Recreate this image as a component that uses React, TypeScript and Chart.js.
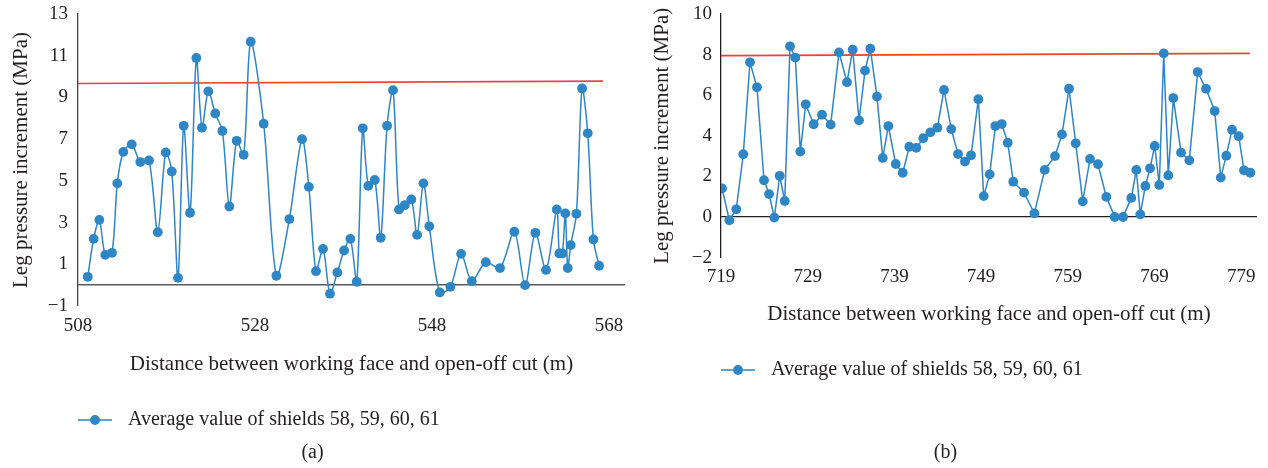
import React, { useEffect, useRef } from 'react';
import { Chart, registerables } from 'chart.js';

Chart.register(...registerables);

const FONT = "'Liberation Serif', 'Times New Roman', serif";
const BLUE = '#2E86C4';
const RED = '#E8442E';
const TEXT = '#231F20';

const seriesLabel = 'Average value of shields 58, 59, 60, 61';
const xTitle = 'Distance between working face and open-off cut (m)';
const yTitle = 'Leg pressure increment (MPa)';

// Panel (a)
const leftDistance = [
  509.10, 509.77, 510.41, 511.08, 511.84, 512.44, 513.12, 514.07, 515.04, 516.02,
  517.01, 517.91, 518.59, 519.30, 519.94, 520.66, 521.37, 522.01, 522.72, 523.51,
  524.31, 525.10, 525.93, 526.72, 527.51, 528.98, 530.41, 531.88, 533.31, 534.08,
  534.89, 535.68, 536.47, 537.30, 538.06, 538.77, 539.49, 540.17, 540.80, 541.53,
  542.20, 542.92, 543.59, 544.27, 544.92, 545.66, 546.31, 547.02, 547.69, 548.87,
  550.07, 551.28, 552.49, 554.07, 555.68, 557.30, 558.51, 559.67, 560.88, 562.09,
  562.38, 562.72, 563.06, 563.33, 563.67, 564.31, 564.95, 565.59, 566.23, 566.87,
];
const leftIncrement = [
  0.40, 2.22, 3.13, 1.45, 1.55, 4.88, 6.39, 6.75, 5.90, 5.98,
  2.54, 6.36, 5.45, 0.35, 7.64, 3.47, 10.89, 7.55, 9.29, 8.23,
  7.39, 3.77, 6.92, 6.25, 11.67, 7.74, 0.45, 3.17, 7.00, 4.71,
  0.67, 1.74, -0.41, 0.61, 1.66, 2.22, 0.16, 7.52, 4.76, 5.04,
  2.27, 7.64, 9.35, 3.63, 3.84, 4.11, 2.41, 4.88, 2.82, -0.35,
  -0.08, 1.50, 0.19, 1.10, 0.82, 2.56, 0.00, 2.51, 0.73, 3.63,
  1.52, 1.52, 3.44, 0.82, 1.92, 3.42, 9.43, 7.28, 2.19, 0.93,
];
const leftXTicks = [508, 528, 548, 568];
const leftThresholdX = [508, 567.3];
const leftThresholdY = [9.67, 9.78];

// Panel (b)
const rightDistance = [
  719.12, 719.96, 720.76, 721.57, 722.34, 723.15, 723.96, 724.54, 725.15, 725.77,
  726.35, 726.96, 727.57, 728.15, 728.77, 729.69, 730.65, 731.65, 732.61, 733.53,
  734.19, 734.92, 735.61, 736.22, 736.99, 737.65, 738.30, 739.15, 739.96, 740.72,
  741.53, 742.33, 743.14, 743.95, 744.72, 745.56, 746.34, 747.14, 747.84, 748.68,
  749.30, 749.99, 750.64, 751.38, 752.07, 752.71, 753.95, 755.14, 756.34, 757.52,
  758.33, 759.14, 759.91, 760.72, 761.56, 762.48, 763.44, 764.41, 765.37, 766.32,
  766.90, 767.36, 767.94, 768.48, 769.02, 769.55, 770.06, 770.59, 771.17, 772.06,
  773.01, 773.98, 774.94, 775.94, 776.64, 777.28, 777.94, 778.71, 779.32, 780.05,
];
const rightIncrement = [
  1.41, -0.16, 0.38, 3.09, 7.62, 6.39, 1.81, 1.13, -0.03, 2.03,
  0.79, 8.41, 7.85, 3.22, 5.55, 4.57, 5.04, 4.55, 8.11, 6.64,
  8.24, 4.76, 7.21, 8.29, 5.93, 2.91, 4.48, 2.61, 2.18, 3.46,
  3.41, 3.88, 4.17, 4.40, 6.26, 4.33, 3.10, 2.73, 3.04, 5.80,
  1.03, 2.10, 4.48, 4.58, 3.66, 1.74, 1.20, 0.18, 2.32, 3.00,
  4.07, 6.32, 3.63, 0.77, 2.86, 2.60, 0.99, 0.00, 0.00, 0.94,
  2.32, 0.13, 1.53, 2.40, 3.50, 1.58, 8.06, 2.05, 5.86, 3.17,
  2.79, 7.14, 6.32, 5.22, 1.94, 3.02, 4.30, 3.98, 2.30, 2.18,
];
const rightXTicks = [719, 729, 739, 749, 759, 769, 779];
const rightThresholdX = [719, 780.0];
const rightThresholdY = [7.95, 8.06];

const fmt = (v: number) => (v < 0 ? '\u2212' + Math.abs(v) : String(v));

type Spec = {
  left: number;
  distance: number[];
  increment: number[];
  xTicks: number[];
  thresholdX: number[];
  thresholdY: number[];
  xMin: number;
  xMax: number;
  yMin: number;
  yMax: number;
  showZeroLabel: boolean;
  tension: number;
  yAxisWidth: number;
  yTitlePad: number;
  yTickPad: number;
  xTickPad: number;
  xAxisHeight: number;
  xTitlePadBottom: number;
  captionPadTop: number;
  layoutPad: { top: number; right: number; bottom: number; left: number };
  zeroColor: string;
  zeroWidth: number;
  axisColor: string;
  caption: string;
};

const specs: Spec[] = [
  {
    left: 0,
    distance: leftDistance,
    increment: leftIncrement,
    xTicks: leftXTicks,
    thresholdX: leftThresholdX,
    thresholdY: leftThresholdY,
    xMin: 508,
    xMax: 569.8,
    yMin: -1,
    yMax: 13,
    showZeroLabel: false,
    tension: 0.3,
    yAxisWidth: 78,
    yTitlePad: 8.4,
    yTickPad: 10,
    xTickPad: 9,
    xAxisHeight: 94,
    xTitlePadBottom: 22.7,
    captionPadTop: 1,
    layoutPad: { top: 14, right: 9, bottom: 3, left: 0 },
    zeroColor: '#595959',
    zeroWidth: 1.6,
    axisColor: '#444444',
    caption: '(a)',
  },
  {
    left: 634,
    distance: rightDistance,
    increment: rightIncrement,
    xTicks: rightXTicks,
    thresholdX: rightThresholdX,
    thresholdY: rightThresholdY,
    xMin: 719,
    xMax: 780.82,
    yMin: -2,
    yMax: 10,
    showZeroLabel: true,
    tension: 0,
    yAxisWidth: 87,
    yTitlePad: 15.4,
    yTickPad: 9,
    xTickPad: 8,
    xAxisHeight: 92.4,
    xTitlePadBottom: 22.7,
    captionPadTop: 51,
    layoutPad: { top: 14, right: 11, bottom: 3, left: 0 },
    zeroColor: '#231F20',
    zeroWidth: 1.2,
    axisColor: '#231F20',
    caption: '(b)',
  },
];

function Panel({ spec }: { spec: Spec }) {
  const ref = useRef<HTMLCanvasElement>(null);

  useEffect(() => {
    const canvas = ref.current;
    if (!canvas) return;

    const marker = document.createElement('canvas');
    marker.width = 60;
    marker.height = 14;
    const m = marker.getContext('2d');
    if (m) {
      m.strokeStyle = BLUE;
      m.lineWidth = 1.5;
      m.beginPath();
      m.moveTo(5, 7);
      m.lineTo(39, 7);
      m.stroke();
      m.fillStyle = BLUE;
      m.beginPath();
      m.arc(22, 7, 4.9, 0, Math.PI * 2);
      m.fill();
    }

    const chart = new Chart(canvas, {
      type: 'line',
      data: {
        datasets: [
          {
            label: seriesLabel,
            data: spec.distance.map((x, i) => ({ x, y: spec.increment[i] })),
            borderColor: BLUE,
            backgroundColor: BLUE,
            borderWidth: 1.5,
            pointRadius: 4.9,
            pointBorderWidth: 0,
            pointBackgroundColor: BLUE,
            tension: spec.tension,
            fill: false,
          },
          {
            label: 'threshold',
            data: spec.thresholdX.map((x, i) => ({ x, y: spec.thresholdY[i] })),
            borderColor: RED,
            backgroundColor: RED,
            borderWidth: 1.6,
            pointRadius: 0,
            tension: 0,
            fill: false,
          },
        ],
      },
      options: {
        animation: false,
        responsive: false,
        events: [],
        layout: { padding: spec.layoutPad },
        scales: {
          x: {
            type: 'linear',
            min: spec.xMin,
            max: spec.xMax,
            afterBuildTicks: (s: any) => {
              s.ticks = spec.xTicks.map((v) => ({ value: v }));
            },
            afterFit: (s: any) => {
              s.height = spec.xAxisHeight;
              s.paddingLeft = 0;
              s.paddingRight = 0;
            },
            grid: { display: false, drawTicks: false },
            border: { display: false },
            ticks: {
              padding: spec.xTickPad,
              font: { family: FONT, size: 19 },
              color: TEXT,
              maxRotation: 0,
              autoSkip: false,
              callback: (v: any) => fmt(Number(v)),
            },
            title: {
              display: true,
              text: xTitle,
              font: { family: FONT, size: 21 },
              color: TEXT,
              padding: { top: 0, bottom: spec.xTitlePadBottom },
            },
          },
          y: {
            type: 'linear',
            min: spec.yMin,
            max: spec.yMax,
            afterFit: (s: any) => {
              s.width = spec.yAxisWidth;
              s.paddingTop = 0;
              s.paddingBottom = 0;
            },
            afterBuildTicks: (s: any) => {
              if (!s.ticks.some((t: any) => t.value === 0)) {
                s.ticks = [...s.ticks, { value: 0 }].sort((a: any, b: any) => a.value - b.value);
              }
            },
            ticks: {
              stepSize: 2,
              padding: spec.yTickPad,
              font: { family: FONT, size: 19 },
              color: TEXT,
              autoSkip: false,
              callback: (v: any) => (Number(v) === 0 && !spec.showZeroLabel ? '' : fmt(Number(v))),
            },
            grid: {
              drawTicks: false,
              color: (c: any) => (c.tick && c.tick.value === 0 ? spec.zeroColor : 'rgba(0,0,0,0)'),
              lineWidth: (c: any) => (c.tick && c.tick.value === 0 ? spec.zeroWidth : 0),
            },
            border: { display: true, color: spec.axisColor, width: 1.3 },
            title: {
              display: true,
              text: yTitle,
              font: { family: FONT, size: 21 },
              color: TEXT,
              padding: { top: spec.yTitlePad, bottom: 0 },
            },
          },
        },
        plugins: {
          legend: {
            position: 'bottom',
            align: 'start',
            fullSize: false,
            labels: {
              usePointStyle: true,
              pointStyleWidth: 30,
              padding: 10,
              font: { family: FONT, size: 20 },
              color: TEXT,
              filter: (item: any) => item.datasetIndex === 0,
              generateLabels: (ch: any) => {
                const items = (Chart.defaults.plugins.legend.labels as any).generateLabels(ch);
                return items.map((it: any) => ({ ...it, pointStyle: marker, fontColor: TEXT }));
              },
            },
          },
          title: {
            display: true,
            position: 'bottom',
            text: spec.caption,
            font: { family: FONT, size: 20, weight: 'normal' },
            color: TEXT,
            padding: { top: spec.captionPadTop, bottom: 0 },
          },
          tooltip: { enabled: false },
        },
      } as any,
    });

    return () => chart.destroy();
  }, [spec]);

  return (
    <canvas
      ref={ref}
      width={634}
      height={468}
      style={{ position: 'absolute', left: spec.left, top: 0, width: 634, height: 468, display: 'block' }}
    />
  );
}

export default function App() {
  return (
    <div style={{ position: 'fixed', left: 0, top: 0, width: 1268, height: 468, background: '#ffffff' }}>
      {specs.map((s) => (
        <Panel key={s.caption} spec={s} />
      ))}
    </div>
  );
}
